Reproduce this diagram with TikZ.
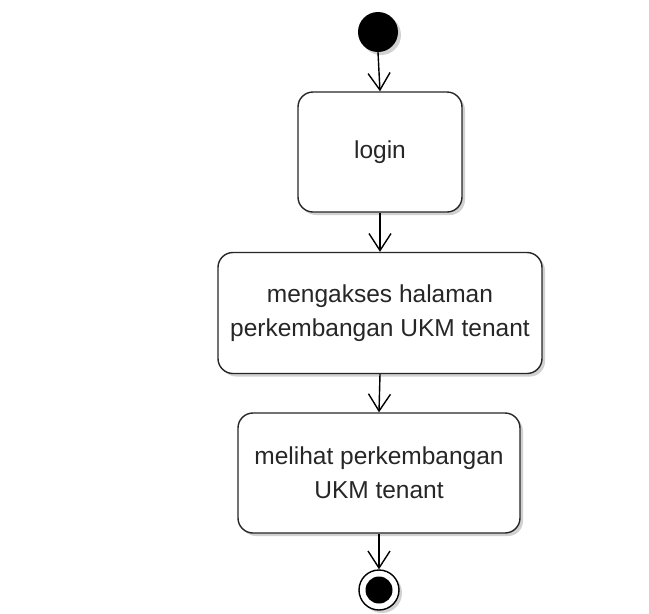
\documentclass[tikz,border=0pt]{standalone}
\usepackage{fontspec}
\setmainfont{Liberation Sans}
\usetikzlibrary{arrows.meta,shadows}
\begin{document}
\begin{tikzpicture}[x=1pt,y=-1pt,
  act/.style={draw=black!85,line width=1.4pt,rounded corners=15pt,fill=white,
    align=center,font=\fontsize{24.5}{34}\selectfont,text=black!85,inner sep=0pt,
    drop shadow={shadow xshift=3pt,shadow yshift=-3pt,fill=black!30,opacity=0.6}},
  flow/.style={draw=black,line width=1.4pt,-{Straight Barb[length=17pt,width=22pt,line width=1.4pt]}}]
\useasboundingbox (0,0) rectangle (649,614);
\node[circle,fill=black,minimum size=40pt,inner sep=0pt,
  drop shadow={shadow xshift=3pt,shadow yshift=-3pt,fill=black!30,opacity=0.6}] (start) at (378,32) {};
\node[act,minimum width=164pt,minimum height=120pt] (login) at (380,152) {login};
\node[act,minimum width=324pt,minimum height=121pt] (akses) at (380,313) {mengakses halaman\\perkembangan UKM tenant};
\node[act,minimum width=282pt,minimum height=120pt] (lihat) at (379,473) {melihat perkembangan\\UKM tenant};
\node[circle,draw=black,line width=1.4pt,fill=white,minimum size=40pt,inner sep=0pt,
  drop shadow={shadow xshift=3pt,shadow yshift=-3pt,fill=black!30,opacity=0.6}] (end) at (379,590) {};
\node[circle,fill=black,minimum size=27pt,inner sep=0pt] (endin) at (end) {};
\draw[flow] (start.south) -- (login.north);
\draw[flow] (login.south) -- (akses.north);
\draw[flow] (akses.south) -- (lihat.north);
\draw[flow] (lihat.south) -- (end.north);
\end{tikzpicture}
\end{document}
